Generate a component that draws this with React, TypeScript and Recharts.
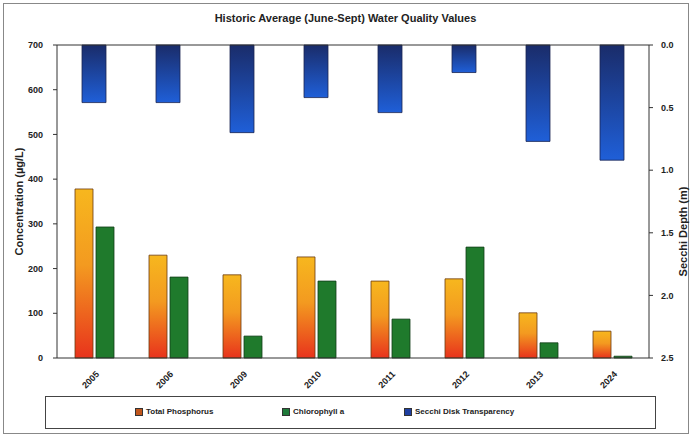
import { Bar, BarChart, Label, ReferenceLine, XAxis, YAxis } from 'recharts';

const years = ['2005', '2006', '2009', '2010', '2011', '2012', '2013', '2024'];
const totalPhosphorus = [378, 230, 186, 226, 172, 177, 101, 60];
const chlorophyllA = [293, 181, 49, 172, 87, 248, 34, 4];
const secchiDepth = [0.46, 0.46, 0.7, 0.42, 0.54, 0.22, 0.77, 0.92];

const concTicks = [0, 100, 200, 300, 400, 500, 600, 700];
const depthTicks = [0, 0.5, 1, 1.5, 2, 2.5];

const data = years.map((year, i) => ({
  year,
  tp: totalPhosphorus[i],
  chl: chlorophyllA[i],
  secchi: secchiDepth[i],
}));

const font = '"Liberation Sans", Arial, sans-serif';
const tickStyle = { fontSize: 9, fontWeight: 700, fill: '#222', fontFamily: font };

function YearTick(props: any) {
  const { x, y, payload } = props;
  return (
    <g transform={`translate(${x + 3},${y + 6})`}>
      <text transform="rotate(-45)" textAnchor="end" dy={4} style={tickStyle}>
        {payload.value}
      </text>
    </g>
  );
}

function Swatch({ color }: { color: string }) {
  return (
    <span
      style={{
        display: 'inline-block', width: 6, height: 6, background: color,
        border: '1px solid #333', marginRight: 3, verticalAlign: 'middle',
      }}
    />
  );
}

export default function App() {
  return (
    <div style={{ position: 'absolute', left: 0, top: 0, width: 691, height: 437, background: '#fff', fontFamily: font }}>
      <div style={{ position: 'absolute', left: 3, top: 3, width: 684, height: 429, border: '1px solid #888' }} />
      <div
        style={{
          position: 'absolute', left: 0, top: 12, width: 691, textAlign: 'center',
          fontSize: 11, fontWeight: 700, color: '#222',
        }}
      >
        Historic Average (June-Sept) Water Quality Values
      </div>
      <div style={{ position: 'absolute', left: 0, top: 0 }}>
        <BarChart
          width={691}
          height={437}
          data={data}
          margin={{ top: 45, left: 12, right: 2, bottom: 39 }}
          barGap={3}
        >
          <defs>
            <linearGradient id="tpGrad" x1="0" y1="0" x2="0" y2="1">
              <stop offset="0%" stopColor="#f7b71e" />
              <stop offset="45%" stopColor="#f39a20" />
              <stop offset="100%" stopColor="#e8331c" />
            </linearGradient>
            <linearGradient id="secchiGrad" x1="0" y1="0" x2="0" y2="1">
              <stop offset="0%" stopColor="#1a2c6a" />
              <stop offset="100%" stopColor="#1f5fd8" />
            </linearGradient>
          </defs>
          <XAxis
            dataKey="year"
            xAxisId="main"
            height={40}
            tick={<YearTick />}
            tickLine={false}
            axisLine={{ stroke: '#333' }}
            interval={0}
          />
          <XAxis dataKey="year" xAxisId="s" hide />
          <YAxis
            yAxisId="left"
            domain={[0, 700]}
            ticks={concTicks}
            width={45}
            tick={tickStyle}
            tickSize={4}
            tickMargin={10}
            axisLine={{ stroke: '#333' }}
            tickLine={{ stroke: '#333' }}
          >
            <Label
              value="Concentration (µg/L)"
              angle={-90}
              position="insideLeft"
              offset={7}
              style={{ fontSize: 11, fontWeight: 700, fill: '#222', fontFamily: font, textAnchor: 'middle' }}
            />
          </YAxis>
          <YAxis
            yAxisId="right"
            orientation="right"
            reversed
            domain={[0, 2.5]}
            ticks={depthTicks}
            tickFormatter={(v: number) => v.toFixed(1)}
            width={40}
            tick={tickStyle}
            tickSize={4}
            tickMargin={8}
            axisLine={{ stroke: '#333' }}
            tickLine={{ stroke: '#333' }}
          >
            <Label
              value="Secchi Depth (m)"
              angle={-90}
              position="insideRight"
              offset={6}
              dy={30}
              style={{ fontSize: 11, fontWeight: 700, fill: '#222', fontFamily: font, textAnchor: 'middle' }}
            />
          </YAxis>
          <ReferenceLine yAxisId="left" xAxisId="main" y={700} stroke="#333" />
          <Bar
            xAxisId="s"
            yAxisId="right"
            dataKey="secchi"
            barSize={24}
            fill="url(#secchiGrad)"
            stroke="#1a2550"
            strokeWidth={0.8}
            isAnimationActive={false}
          />
          <Bar
            xAxisId="main"
            yAxisId="left"
            dataKey="tp"
            barSize={18}
            fill="url(#tpGrad)"
            stroke="#6b3a10"
            strokeWidth={0.8}
            isAnimationActive={false}
          />
          <Bar
            xAxisId="main"
            yAxisId="left"
            dataKey="chl"
            barSize={18}
            fill="#1f7a2c"
            stroke="#123d18"
            strokeWidth={0.8}
            isAnimationActive={false}
          />
        </BarChart>
      </div>
      <div
        style={{
          position: 'absolute', left: 45, top: 396, width: 609, height: 31,
          border: '1px solid #444', fontSize: 8, fontWeight: 700, color: '#222',
        }}
      >
        <span style={{ position: 'absolute', left: 89, top: 10 }}>
          <Swatch color="#c0561c" />Total Phosphorus
        </span>
        <span style={{ position: 'absolute', left: 236, top: 10 }}>
          <Swatch color="#1f7a3a" />Chlorophyll a
        </span>
        <span style={{ position: 'absolute', left: 358, top: 10 }}>
          <Swatch color="#1f3fa0" />Secchi Disk Transparency
        </span>
      </div>
    </div>
  );
}
